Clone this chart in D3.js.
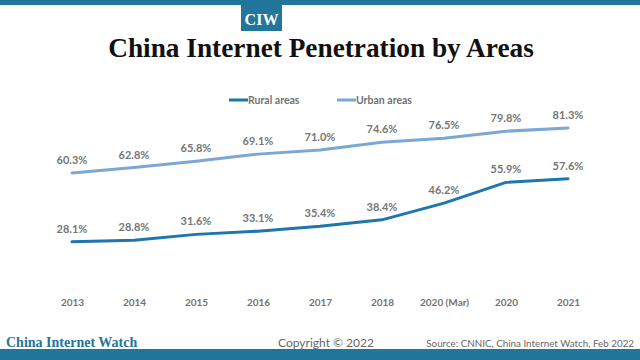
<!DOCTYPE html>
<html><head><meta charset="utf-8">
<script src="https://cdn.jsdelivr.net/npm/d3@7"></script>
<style>body{margin:0;background:#fff}svg{display:block}</style>
</head><body>
<svg id="c" width="640" height="360"></svg>
<script>
const categories = ["2013","2014","2015","2016","2017","2018","2020 (Mar)","2020","2021"];
const rural = [28.1,28.8,31.6,33.1,35.4,38.4,46.2,55.9,57.6];
const urban = [60.3,62.8,65.8,69.1,71.0,74.6,76.5,79.8,81.3];
const seriesNames = ["Rural areas","Urban areas"];
const colors = ["#1f75ad","#7ba7d4"];

const svg = d3.select("#c");
const brand = "#22769c";
svg.append("rect").attr("x",0).attr("y",0).attr("width",640).attr("height",5).attr("fill",brand);
svg.append("rect").attr("x",241).attr("y",5).attr("width",41).attr("height",26).attr("fill",brand);
svg.append("text").attr("x",261.5).attr("y",24.5).attr("text-anchor","middle")
  .attr("font-family","Liberation Serif, serif").attr("font-weight","bold").attr("font-size",16)
  .attr("fill","#fff").text("CIW");
svg.append("text").attr("x",321).attr("y",57).attr("text-anchor","middle")
  .attr("font-family","Liberation Serif, serif").attr("font-weight","bold").attr("font-size",27.3)
  .attr("fill","#111").text("China Internet Penetration by Areas");

const x = d3.scalePoint().domain(categories).range([72,568]);
const y = d3.scaleLinear().domain([0,100]).range([302,88]);

// x axis
const xa = svg.append("g").attr("transform","translate(0,299)")
  .call(d3.axisBottom(x).tickSize(0).tickPadding(0));
xa.select(".domain").remove();
xa.selectAll("text").attr("font-family","Lato, sans-serif").attr("font-size",10)
  .attr("font-weight","bold").attr("fill","#737373").attr("dy","0.71em");

const line = d3.line().x((d,i)=>x(categories[i])).y(d=>y(d)).curve(d3.curveLinear);
[rural,urban].forEach((s,k)=>{
  svg.append("path").datum(s).attr("d",line).attr("fill","none")
    .attr("stroke",colors[k]).attr("stroke-width",3).attr("stroke-linecap","round")
    .attr("stroke-linejoin","round");
  svg.append("g").selectAll("text").data(s).join("text")
    .attr("x",(d,i)=>x(categories[i])).attr("y",d=>y(d)-9)
    .attr("text-anchor","middle").attr("font-family","Lato, sans-serif")
    .attr("font-size",11).attr("font-weight","bold").attr("fill","#767676")
    .text(d=>d.toFixed(1)+"%");
});

// legend
const lg = [{x:229,name:seriesNames[0],c:colors[0]},{x:337,name:seriesNames[1],c:colors[1]}];
lg.forEach(l=>{
  svg.append("line").attr("x1",l.x).attr("x2",l.x+19).attr("y1",100).attr("y2",100)
    .attr("stroke",l.c).attr("stroke-width",3);
  svg.append("text").attr("x",l.x+19).attr("y",104).attr("font-family","Lato, sans-serif")
    .attr("font-size",10.5).attr("font-weight","bold").attr("fill","#737373").text(l.name);
});

// footer
svg.append("text").attr("x",6).attr("y",347).attr("font-family","Liberation Serif, serif")
  .attr("font-weight","bold").attr("font-size",14).attr("fill",brand).text("China Internet Watch");
svg.append("text").attr("x",326).attr("y",347).attr("text-anchor","middle").attr("font-family","Lato, sans-serif")
  .attr("font-size",12).attr("fill","#666").text("Copyright © 2022");
svg.append("text").attr("x",634).attr("y",347).attr("text-anchor","end").attr("font-family","Lato, sans-serif")
  .attr("font-size",9.8).attr("fill","#666").text("Source: CNNIC, China Internet Watch, Feb 2022");
svg.append("rect").attr("x",0).attr("y",349).attr("width",640).attr("height",11).attr("fill",brand);
</script>
</body></html>
